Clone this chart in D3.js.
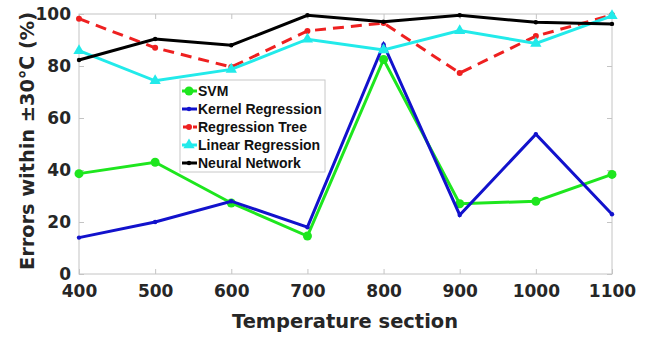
<!DOCTYPE html>
<html>
<head>
<meta charset="utf-8">
<script src="https://cdn.jsdelivr.net/npm/d3@7"></script>
<style>
  body { margin: 0; background: #fff; }
  svg { display: block; font-family: Arial, "Liberation Sans", sans-serif; }
</style>
</head>
<body>
<div id="chart"></div>
<script>
// temperature sections on the x axis
const temps = [400, 500, 600, 700, 800, 900, 1000, 1100];
const yTicks = [0, 20, 40, 60, 80, 100];

// percentage of errors within +/-30 C per model
const svm = [38.6, 43, 27.3, 14.6, 82.5, 27, 28, 38.3];
const kernelReg = [14, 20, 28, 18, 88.3, 22.7, 53.8, 23];
const regTree = [98.2, 87, 79.6, 93.5, 96.5, 77.3, 91.5, 99.6];
const linearReg = [85.9, 74.3, 78.7, 90.3, 86.2, 93.6, 88.7, 99.3];
const neuralNet = [82.3, 90.4, 88, 99.5, 97, 99.5, 96.8, 96.2];

const seriesNames = ['SVM', 'Kernel Regression', 'Regression Tree', 'Linear Regression', 'Neural Network'];

const series = [
  { name: seriesNames[0], values: svm, color: '#1ee61e', marker: 'circle', r: 4.5, dash: null },
  { name: seriesNames[1], values: kernelReg, color: '#1212cc', marker: 'circle', r: 2.2, dash: null },
  { name: seriesNames[2], values: regTree, color: '#ee2020', marker: 'circle', r: 3, dash: '11,7' },
  { name: seriesNames[3], values: linearReg, color: '#22eaea', marker: 'triangle', r: 5, dash: null },
  { name: seriesNames[4], values: neuralNet, color: '#000000', marker: 'circle', r: 2.2, dash: null }
];

const W = 653, H = 338;
const margin = { left: 79, right: 41, top: 14, bottom: 64 };
const plotW = W - margin.left - margin.right;
const plotH = H - margin.top - margin.bottom;
const labelFont = '"DejaVu Sans", Verdana, sans-serif';

const svg = d3.select('#chart').append('svg')
  .attr('width', W)
  .attr('height', H);

const x = d3.scaleLinear().domain([400, 1100]).range([0, plotW]);
const y = d3.scaleLinear().domain([0, 100]).range([plotH, 0]);

const g = svg.append('g').attr('transform', `translate(${margin.left},${margin.top})`);

// axes box
g.append('rect')
  .attr('width', plotW).attr('height', plotH)
  .attr('fill', 'none').attr('stroke', '#c4c4c4').attr('stroke-width', 1);

const axisX = g.append('g')
  .attr('transform', `translate(0,${plotH})`)
  .call(d3.axisBottom(x).tickValues(temps).tickFormat(d3.format('d')).tickSizeInner(-5).tickSizeOuter(0));
const axisXTop = g.append('g')
  .call(d3.axisTop(x).tickValues(temps).tickFormat('').tickSizeInner(-5).tickSizeOuter(0));
const axisY = g.append('g')
  .call(d3.axisLeft(y).tickValues(yTicks).tickSizeInner(-5).tickSizeOuter(0));
const axisYRight = g.append('g')
  .attr('transform', `translate(${plotW},0)`)
  .call(d3.axisRight(y).tickValues(yTicks).tickFormat('').tickSizeInner(-5).tickSizeOuter(0));

[axisX, axisXTop, axisY, axisYRight].forEach(a => {
  a.select('.domain').remove();
  a.selectAll('.tick line').attr('stroke', '#c4c4c4');
});

axisX.selectAll('.tick text')
  .attr('y', 9).attr('dy', '0.85em')
  .style('font-family', labelFont)
  .style('font-size', '17px').style('font-weight', 'bold').attr('fill', '#262626');
axisY.selectAll('.tick text')
  .attr('x', -8).attr('dy', '0.3em')
  .style('font-family', labelFont)
  .style('font-size', '17px').style('font-weight', 'bold').attr('fill', '#262626');

// lines
const line = d3.line()
  .x((d, i) => x(temps[i]))
  .y(d => y(d));

const tri = d3.symbol().type(d3.symbolTriangle).size(55);

series.forEach(s => {
  g.append('path')
    .datum(s.values)
    .attr('d', line)
    .attr('fill', 'none')
    .attr('stroke', s.color)
    .attr('stroke-width', 3)
    .attr('stroke-dasharray', s.dash);

  if (s.marker === 'triangle') {
    g.selectAll(null).data(s.values).enter()
      .append('path')
      .attr('d', tri)
      .attr('transform', (d, i) => `translate(${x(temps[i])},${y(d)})`)
      .attr('fill', s.color);
  } else {
    g.selectAll(null).data(s.values).enter()
      .append('circle')
      .attr('cx', (d, i) => x(temps[i]))
      .attr('cy', d => y(d))
      .attr('r', s.r)
      .attr('fill', s.color);
  }
});

// legend
const lg = svg.append('g').attr('transform', 'translate(180,80)');
lg.append('rect')
  .attr('width', 145).attr('height', 92)
  .attr('fill', '#fff').attr('stroke', '#c8c8c8');

series.forEach((s, i) => {
  const row = lg.append('g').attr('transform', `translate(0,${11 + i * 18})`);
  row.append('line')
    .attr('x1', 2).attr('x2', 17)
    .attr('stroke', s.color).attr('stroke-width', 3)
    .attr('stroke-dasharray', s.dash ? '6,4' : null)
    .attr('stroke-dashoffset', s.dash ? -1 : null);
  if (s.marker === 'triangle') {
    row.append('path').attr('d', tri).attr('transform', 'translate(9,0)').attr('fill', s.color);
  } else {
    row.append('circle').attr('cx', 9).attr('r', s.r).attr('fill', s.color);
  }
  row.append('text')
    .attr('x', 18).attr('y', 5)
    .style('font-size', '14px').style('font-weight', 'bold')
    .attr('fill', '#111')
    .text(s.name);
});

// axis titles
svg.append('text')
  .attr('x', 232).attr('y', 328)
  .attr('textLength', 226).attr('lengthAdjust', 'spacingAndGlyphs')
  .style('font-family', labelFont)
  .style('font-size', '20px').style('font-weight', 'bold').attr('fill', '#262626')
  .text('Temperature section');

svg.append('text')
  .attr('transform', 'translate(34,270) rotate(-90)')
  .attr('textLength', 258).attr('lengthAdjust', 'spacingAndGlyphs')
  .style('font-family', labelFont)
  .style('font-size', '20px').style('font-weight', 'bold').attr('fill', '#262626')
  .text('Errors within ±30℃ (%)');
</script>
</body>
</html>
